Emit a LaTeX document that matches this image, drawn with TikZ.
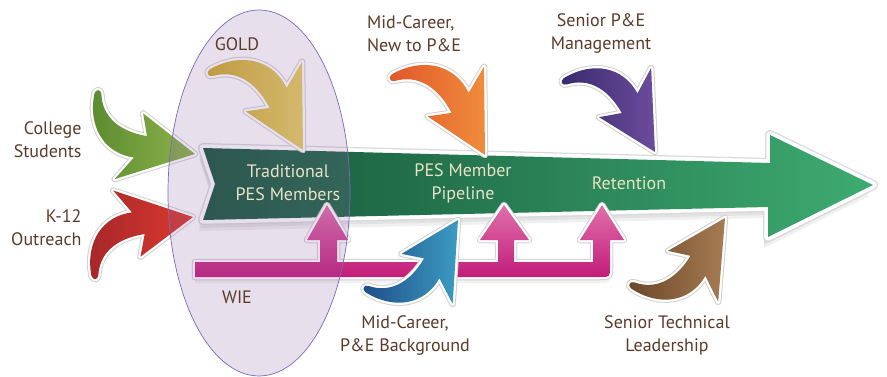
\documentclass[tikz,border=0pt]{standalone}
\usepackage{fontspec}
\setmainfont{PT Sans}
\definecolor{lblbrown}{HTML}{5C3A28}
\definecolor{cream}{HTML}{E8E2C8}
\definecolor{gdark}{HTML}{16553A}
\definecolor{gmid}{HTML}{22844A}
\definecolor{glight}{HTML}{3DAB70}
\definecolor{pinktop}{HTML}{E070AA}
\definecolor{pinkbot}{HTML}{C21C7A}
\definecolor{elfill}{HTML}{8A5FA5}
\definecolor{elline}{HTML}{7B68B8}
\definecolor{goldA}{HTML}{CDAA2A}\definecolor{goldB}{HTML}{E6D060}
\definecolor{greenA}{HTML}{5A8A30}\definecolor{greenB}{HTML}{8DB34A}
\definecolor{redA}{HTML}{A6262A}\definecolor{redB}{HTML}{DA3A2E}
\definecolor{orangeA}{HTML}{E0562A}\definecolor{orangeB}{HTML}{F08C3C}
\definecolor{purpA}{HTML}{382A6E}\definecolor{purpB}{HTML}{6C4C9C}
\definecolor{blueA}{HTML}{1E4C88}\definecolor{blueB}{HTML}{3C9CC2}
\definecolor{brownA}{HTML}{6A4628}\definecolor{brownB}{HTML}{A67C52}
\begin{document}
\begin{tikzpicture}[x=1pt,y=-1pt,
  glow/.style={preaction={draw=black!18,line width=6.5pt,line join=round},
               preaction={draw=white,line width=4.5pt,line join=round}},
  bigglow/.style={preaction={draw=black!15,line width=10pt,line join=round},
                  preaction={draw=white,line width=7.5pt,line join=round}},
  pics/swoosh/.style 2 args={code={
    \shade[glow,left color=#1,right color=#2]
      (0,0) -- (-76,-36) -- (-60,-12)
      .. controls (-90,-12) and (-110,12) .. (-108,46)
      .. controls (-107,51) and (-102,51) .. (-101,46)
      .. controls (-97,25) and (-80,12) .. (-50,11)
      -- (-57,33) -- cycle;}},
  lbl/.style={text=lblbrown,font=\fontsize{18}{23}\selectfont,align=center},
  inlbl/.style={text=cream,font=\fontsize{18}{23}\selectfont,align=center}]
\useasboundingbox (0,0) rectangle (887,377);
% shadows of main arrow
\foreach \s in {5,8,11}{
  \fill[black,opacity=0.06,shift={(-4,\s)}] (203,148) -- (770,163) -- (770,135) -- (873,185)
    -- (768,237) -- (768,207) -- (203,220) -- (215,184) -- cycle;}
% main arrow
\shade[bigglow,left color=gdark,middle color=gmid,right color=glight]
  (203,148) -- (770,163) -- (770,135) -- (873,185) -- (768,237) -- (768,207)
  -- (203,220) -- (215,184) -- cycle;
% WIE arrow
\foreach \s in {3,6}{
  \fill[black,opacity=0.05,shift={(0,\s)}] (195,262) -- (610,262) -- (610,267)
    .. controls (610,277) .. (600,277) -- (195,277) -- cycle;}
\shade[glow,top color=pinktop,bottom color=pinkbot]
  (195,262) -- (320,262) -- (320,240) -- (307,240) -- (327,205) -- (348,240)
  -- (337,240) -- (337,262) -- (498,262) -- (498,240) -- (480,240) -- (504,205)
  -- (529,240) -- (514,240) -- (514,262) -- (593,262) -- (593,240) -- (580,240)
  -- (602,205) -- (624,240) -- (610,240) -- (610,267)
  .. controls (610,277) .. (600,277) -- (195,277) -- cycle;
% curved arrows
\pic[rotate=-64,scale=1.05] at (303,150) {swoosh={goldA}{goldB}};
\pic[rotate=-64,scale=1.05] at (485,155) {swoosh={orangeA}{orangeB}};
\pic[rotate=-62] at (655,152) {swoosh={purpA}{purpB}};
\pic[rotate=-8,yscale=-1] at (195,154) {swoosh={greenA}{greenB}};
\pic[rotate=7] at (193,217) {swoosh={redA}{redB}};
\pic[rotate=61,yscale=-1] at (458,220) {swoosh={blueA}{blueB}};
\pic[rotate=60,yscale=-1] at (725,218) {swoosh={brownA}{brownB}};
% ellipse
\draw[draw=elline,fill=elfill,fill opacity=0.2,line width=0.7pt]
  (259,193) ellipse [x radius=91pt,y radius=183pt];
% labels
\node[lbl,align=right,anchor=east] (college) at (85,140) {College\\Students};
\node[lbl,align=right,anchor=east] (k12) at (85,228) {K-12\\Outreach};
\node[lbl] (gold) at (237,44) {GOLD};
\node[lbl] (wie) at (237,297) {WIE};
\node[lbl,align=left] (midnew) at (414,34) {Mid-Career,\\New to P\&E};
\node[lbl] (senmgmt) at (601,34) {Senior P\&E\\Management};
\node[lbl] (midbg) at (405,335) {Mid-Career,\\P\&E Background};
\node[lbl] (sentech) at (667,335) {Senior Technical\\Leadership};
\node[inlbl] (trad) at (288,183) {Traditional\\PES Members};
\node[inlbl] (pipe) at (463,183) {PES Member\\Pipeline};
\node[inlbl] (ret) at (629,183) {Retention};
\end{tikzpicture}
\end{document}
